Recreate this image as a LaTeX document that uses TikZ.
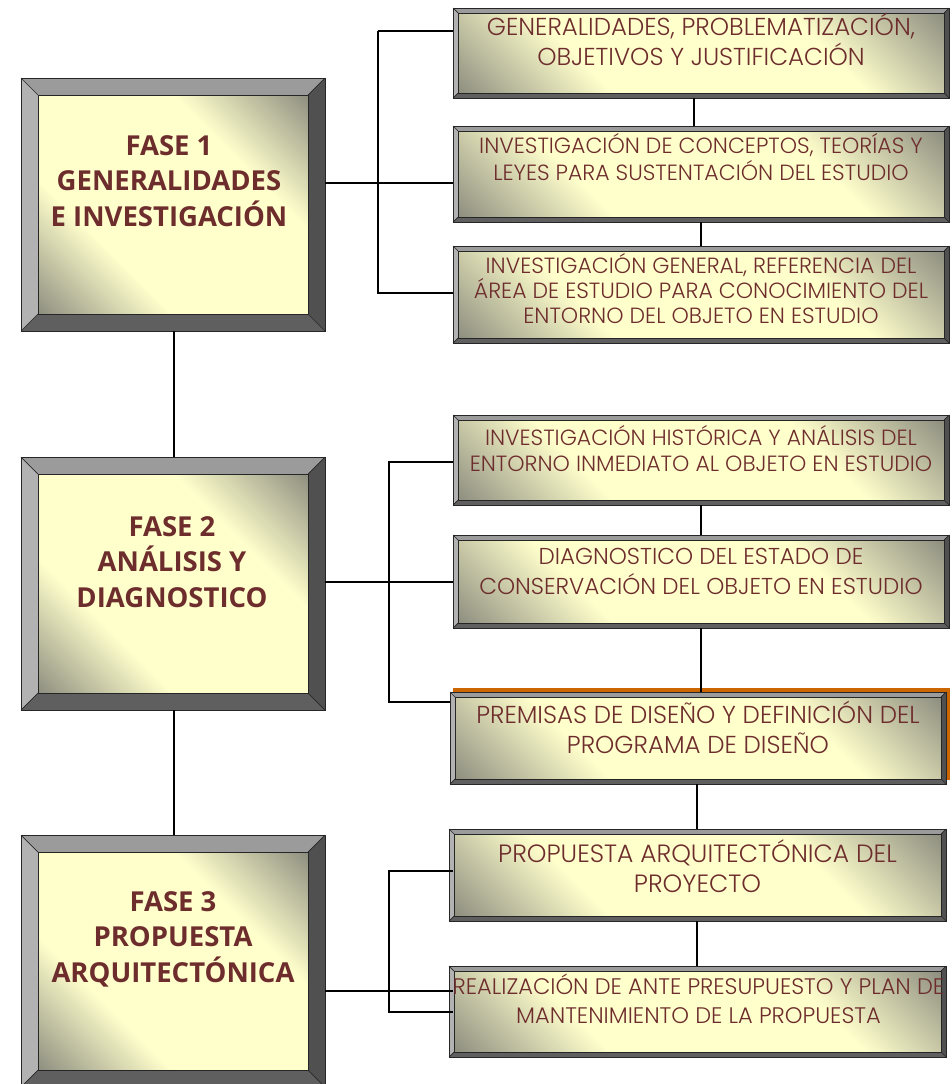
\documentclass[tikz,border=0pt]{standalone}
\usepackage{fontspec}
\setmainfont{Poppins Light}
\newfontfamily\bigfont{Open Sans}
\usetikzlibrary{calc}
\definecolor{txt}{RGB}{110,45,45}
\definecolor{fy}{RGB}{255,255,204}
\definecolor{fg}{RGB}{145,145,130}
\definecolor{bvT}{RGB}{155,155,155}
\definecolor{bvL}{RGB}{178,178,178}
\definecolor{bvR}{RGB}{80,80,80}
\definecolor{bvB}{RGB}{95,95,95}
\definecolor{orangeedge}{RGB}{204,102,0}
\pgfdeclarehorizontalshading{facegrad}{100bp}{color(0bp)=(fg); color(15bp)=(fg); color(34bp)=(fy); color(66bp)=(fy); color(85bp)=(fg); color(100bp)=(fg)}
\newcommand\fl{\rule{0pt}{1.1em}}
% #1 name, #2 x1, #3 y1, #4 x2, #5 y2, #6 bevel
\newcommand\bevbox[6]{%
  \node[boxnode, minimum width={#4pt-#2pt}, minimum height={#5pt-#3pt}] (#1) at (#2,#3) {};
  \fill[bvT] (#1.north west) -- (#1.north east) -- ($(#1.north east)+(-#6,#6)$) -- ($(#1.north west)+(#6,#6)$) -- cycle;
  \fill[bvL] (#1.north west) -- ($(#1.north west)+(#6,#6)$) -- ($(#1.south west)+(#6,-#6)$) -- (#1.south west) -- cycle;
  \fill[bvR] (#1.north east) -- (#1.south east) -- ($(#1.south east)+(-#6,-#6)$) -- ($(#1.north east)+(-#6,#6)$) -- cycle;
  \fill[bvB] (#1.south west) -- (#1.south east) -- ($(#1.south east)+(-#6,-#6)$) -- ($(#1.south west)+(#6,-#6)$) -- cycle;
  \shade[shading=facegrad, shading angle=45] ($(#1.north west)+(#6,#6)$) rectangle ($(#1.south east)+(-#6,-#6)$);
  \draw[edge] (#1.north west) rectangle (#1.south east);
  \draw[edge] ($(#1.north west)+(#6,#6)$) rectangle ($(#1.south east)+(-#6,-#6)$);
  \draw[edge] (#1.north west) -- ++(#6,#6) (#1.north east) -- ++(-#6,#6)
              (#1.south west) -- ++(#6,-#6) (#1.south east) -- ++(-#6,-#6);
}
\begin{document}
\begin{tikzpicture}[x=1pt,y=-1pt,
  boxnode/.style={shape=rectangle, inner sep=0pt, outer sep=0pt, anchor=north west},
  edge/.style={draw=black!85, line width=0.7pt},
  conn/.style={draw=black, line width=1.4pt},
  smalltxt/.style={text=txt, align=center, inner sep=0pt, anchor=north},
  bigtxt/.style={text=txt, align=center, inner sep=0pt, anchor=north,
    font=\bigfont\bfseries\fontsize{27.5}{35.5}\selectfont}]
\useasboundingbox (0,0) rectangle (952,1084);
\clip (0,0) rectangle (952,1084);
\fill[white] (0,0) rectangle (952,1084);

\coordinate (j1) at (378,31);
\coordinate (j2) at (389,462);
\coordinate (j3) at (389,871);

% big phase boxes
\bevbox{F1}{21}{78}{325}{331}{17}
\bevbox{F2}{21}{457}{325}{710}{17}
\bevbox{F3}{21}{835}{325}{1087}{17}

% small boxes
\bevbox{A}{453}{8}{949}{98}{5}
\bevbox{B}{453}{126}{949}{222}{5}
\bevbox{C}{453}{246}{949}{343}{5}
\bevbox{D}{453}{415}{949}{505}{5}
\bevbox{E}{453}{535}{949}{628}{5}
\fill[orangeedge] (453,688) rectangle (950,780);
\bevbox{P}{450}{692}{946}{784}{5}
\bevbox{G}{449}{829}{946}{921}{5}
\bevbox{H}{449}{966}{946}{1057}{5}

% phase 1 connectors
\draw[conn] (F1.east |- 0,183) -- (B.west |- 0,183);
\draw[conn] (j1) -- (A.west |- j1);
\draw[conn] (j1) -- (j1 |- 0,293) -- (C.west |- 0,293);
\draw[conn] (A.south -| 694,0) -- (B.north -| 694,0);
\draw[conn] (B.south -| 701,0) -- (C.north -| 701,0);
% phase 1 -> 2 -> 3
\draw[conn] (F1.south -| 174,0) -- (F2.north -| 174,0);
\draw[conn] (F2.south -| 174,0) -- (F3.north -| 174,0);
% phase 2 connectors
\draw[conn] (F2.east |- 0,582) -- (E.west |- 0,582);
\draw[conn] (D.west |- j2) -- (j2) -- (j2 |- 0,702) -- (P.west |- 0,702);
\draw[conn] (D.south -| 701,0) -- (E.north -| 701,0);
\draw[conn] (E.south -| 701,0) -- (P.north -| 701,0);
% phase 3 connectors
\draw[conn] (P.south -| 697,0) -- (G.north -| 697,0);
\draw[conn] (G.south -| 697,0) -- (H.north -| 697,0);
\draw[conn] (F3.east |- 0,991) -- ([xshift=4pt]H.west |- 0,991);
\draw[conn] ([xshift=4pt]G.west |- j3) -- (j3) -- (j3 |- 0,1012) -- ([xshift=4pt]H.west |- 0,1012);

% texts
\node[bigtxt] (tF1) at (169,124.8) {\fl FASE 1\\GENERALIDADES\\E INVESTIGACIÓN};
\node[bigtxt] (tF2) at (172,505.8) {\fl FASE 2\\ANÁLISIS Y\\DIAGNOSTICO};
\node[bigtxt] (tF3) at (173,880.8) {\fl FASE 3\\PROPUESTA\\ARQUITECTÓNICA};

\node[smalltxt, font=\fontsize{24.5}{30}\selectfont] (tA) at (701,8.1)
  {\fl GENERALIDADES, PROBLEMATIZACIÓN,\\OBJETIVOS Y JUSTIFICACIÓN};
\node[smalltxt, font=\fontsize{22}{27}\selectfont] (tB) at (701,128.8)
  {\fl INVESTIGACIÓN DE CONCEPTOS, TEORÍAS Y\\LEYES PARA SUSTENTACIÓN DEL ESTUDIO};
\node[smalltxt, font=\fontsize{22}{25}\selectfont] (tC) at (701,248.8)
  {\fl INVESTIGACIÓN GENERAL, REFERENCIA DEL\\ÁREA DE ESTUDIO PARA CONOCIMIENTO DEL\\ENTORNO DEL OBJETO EN ESTUDIO};
\node[smalltxt, font=\fontsize{22}{26}\selectfont] (tD) at (701,420.8)
  {\fl INVESTIGACIÓN HISTÓRICA Y ANÁLISIS DEL\\ENTORNO INMEDIATO AL OBJETO EN ESTUDIO};
\node[smalltxt, font=\fontsize{23}{30}\selectfont] (tE) at (701,538.7)
  {\fl DIAGNOSTICO DEL ESTADO DE\\CONSERVACIÓN DEL OBJETO EN ESTUDIO};
\node[smalltxt, font=\fontsize{24.5}{30}\selectfont] (tP) at (698,696)
  {\fl PREMISAS DE DISEÑO Y DEFINICIÓN DEL\\PROGRAMA DE DISEÑO};
\node[smalltxt, font=\fontsize{25}{30}\selectfont] (tG) at (697.5,834.5)
  {\fl PROPUESTA ARQUITECTÓNICA DEL\\PROYECTO};
\node[smalltxt, font=\fontsize{22.5}{29}\selectfont] (tH) at (698.5,969.25)
  {\fl REALIZACIÓN DE ANTE PRESUPUESTO Y PLAN DE\\MANTENIMIENTO DE LA PROPUESTA};
\end{tikzpicture}
\end{document}
